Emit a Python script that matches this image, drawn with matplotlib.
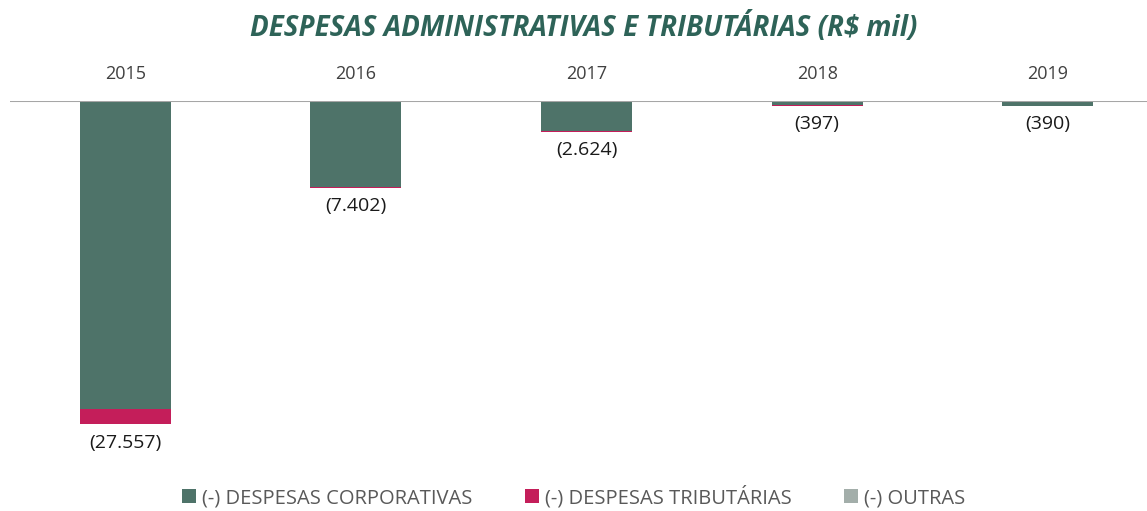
import matplotlib
matplotlib.use("Agg")
import matplotlib.pyplot as plt
import numpy as np

years = ["2015", "2016", "2017", "2018", "2019"]
outras = [-110, -60, -50, -90, -60]
corporativas = [-26167, -7282, -2524, -227, -330]
tributarias = [-1280, -60, -50, -80, 0]
totals = [-27557, -7402, -2624, -397, -390]
total_labels = ["(27.557)", "(7.402)", "(2.624)", "(397)", "(390)"]

c_corp = "#4E7369"
c_trib = "#C41E5A"
c_out = "#A3AEAA"
font = ["Open Sans", "DejaVu Sans"]
plt.rcParams['font.family'] = font

W, H = 1147, 511
fig = plt.figure(figsize=(W/100, H/100), dpi=100)
top_px, bot_px = 101, 470.2
left_px, right_px = 10, 1163
ax = fig.add_axes([left_px/W, 1-bot_px/H, (right_px-left_px)/W, (bot_px-top_px)/H])
x = np.arange(len(years))
bw = 0.395
ax.bar(x, outras, bw, color=c_out, label="(-) OUTRAS", zorder=2)
ax.bar(x, corporativas, bw, bottom=outras, color=c_corp, label="(-) DESPESAS CORPORATIVAS", zorder=2)
b2 = np.array(outras) + np.array(corporativas)
ax.bar(x, tributarias, bw, bottom=b2, color=c_trib, label="(-) DESPESAS TRIBUTÁRIAS", zorder=2)

ax.set_xlim(-0.5, 4.5)
ax.set_ylim(-31500, 0)
ax.axhline(0, color="#A6A6A6", lw=1.5, zorder=3)
for s in ax.spines.values():
    s.set_visible(False)
ax.set_yticks([])
ax.xaxis.tick_top()
ax.set_xticks(x)
ax.set_xticklabels(years, fontsize=13, color="#404040")
ax.tick_params(axis="x", length=0, pad=13)

for xi, t, lab in zip(x, totals, total_labels):
    ax.annotate(lab, (xi, t), xytext=(0, -7), textcoords="offset points",
                ha="center", va="top", fontsize=14, color="#1a1a1a")

fig.text(584/W, 1-28/H, "DESPESAS ADMINISTRATIVAS E TRIBUTÁRIAS (R$ mil)",
         ha="center", va="center", fontsize=20, fontweight="bold",
         fontstyle="italic", color="#2E6358")

handles, labels = ax.get_legend_handles_labels()
order = [1, 2, 0]
fig.legend([handles[i] for i in order], [labels[i] for i in order],
           loc="center", bbox_to_anchor=(0.5, 1-497/H), ncol=3, frameon=False,
           fontsize=14.5, handlelength=0.7, handleheight=0.7, handletextpad=0.3,
           columnspacing=2.6, labelcolor="#595959")

fig.savefig("out.png", dpi=100)
